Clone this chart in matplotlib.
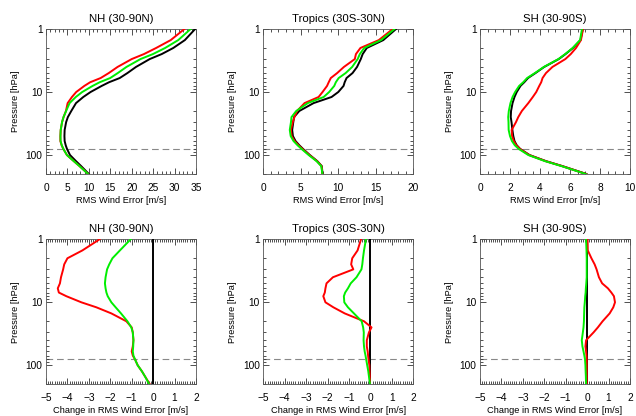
import matplotlib
matplotlib.use("Agg")
import matplotlib.pyplot as plt
from matplotlib.ticker import MultipleLocator, FixedLocator, LogLocator, NullFormatter
import numpy as np

plt.rcParams["font.family"] = ["Liberation Sans", "DejaVu Sans"]

# pressure levels [hPa]
levels = [1, 1.5, 2, 2.5, 3, 4, 5, 6, 7, 8, 10, 12, 15, 20, 25, 30, 40, 50, 60, 70, 80, 100, 125, 150, 200]

# control RMS wind error [m/s]
nh_ctrl = [34.8, 32.4, 29.7, 27.0, 24.2, 21.0, 19.0, 17.2, 14.7, 13.0, 10.4, 8.7, 7.0, 5.9, 5.1, 4.7,
           4.35, 4.3, 4.35, 4.6, 4.9, 5.6, 7.0, 8.2, 10.0]
tr_ctrl = [17.7, 16.0, 13.8, 13.25, 13.0, 12.5, 11.9, 11.1, 10.85, 10.7, 10.0, 9.1, 6.7, 4.8, 4.1, 4.0,
           3.85, 3.95, 4.3, 4.8, 5.3, 6.2, 7.2, 7.8, 7.9]
sh_ctrl = [6.85, 6.7, 6.2, 5.7, 5.25, 4.28, 3.7, 3.2, 2.95, 2.7, 2.45, 2.3, 2.17, 2.07, 2.05, 2.1,
           2.16, 2.22, 2.3, 2.45, 2.68, 3.3, 4.4, 5.5, 7.1]

# change in RMS wind error vs control, red experiment
nh_red = [-2.5, -3.3, -4.0, -4.15, -4.2, -4.3, -4.35, -4.45, -4.4, -4.05, -3.35, -2.65, -1.95, -1.25,
          -1.0, -0.95, -0.92, -0.95, -1.0, -0.95, -0.85, -0.72, -0.52, -0.38, -0.15]
tr_red = [-0.44, -0.6, -0.85, -0.9, -0.8, -1.75, -2.05, -2.1, -2.13, -2.2, -2.1, -1.73, -1.2, -0.3,
          0.05, -0.07, -0.17, -0.17, -0.13, -0.11, -0.09, -0.05, -0.04, -0.03, -0.02]
sh_red = [0.02, 0.03, 0.2, 0.35, 0.44, 0.55, 0.7, 0.97, 1.13, 1.25, 1.3, 1.22, 1.05, 0.72, 0.5, 0.3,
          -0.05, -0.08, -0.05, -0.03, -0.02, -0.02, -0.02, -0.02, -0.02]

# change in RMS wind error vs control, green experiment
nh_green = [-1.05, -1.55, -1.9, -2.05, -2.15, -2.22, -2.25, -2.22, -2.18, -2.12, -1.95, -1.75, -1.5,
            -1.2, -1.02, -0.95, -0.92, -0.93, -0.95, -0.92, -0.85, -0.72, -0.52, -0.38, -0.18]
tr_green = [-0.21, -0.3, -0.35, -0.38, -0.42, -0.65, -0.92, -1.05, -1.18, -1.24, -1.22, -1.05, -0.77,
            -0.41, -0.34, -0.31, -0.32, -0.3, -0.27, -0.23, -0.2, -0.15, -0.1, -0.07, -0.02]
sh_green = [-0.05, -0.03, -0.02, -0.02, -0.02, -0.02, -0.04, -0.06, -0.07, -0.09, -0.11, -0.13, -0.14,
            -0.15, -0.17, -0.2, -0.25, -0.22, -0.17, -0.13, -0.1, -0.08, -0.07, -0.06, -0.05]

titles = ["NH (30-90N)", "Tropics (30S-30N)", "SH (30-90S)"]
top_xmax = [35, 20, 10]
top_major = [5, 5, 2]
top_minor = [1, 1, 0.5]
dash_level = 80

regions = [(nh_ctrl, nh_red, nh_green), (tr_ctrl, tr_red, tr_green), (sh_ctrl, sh_red, sh_green)]

fig = plt.figure(figsize=(6.36, 4.16), dpi=100)
lefts = [46 / 636, 263.3 / 636, 480 / 636]
w = 150 / 636
h = 145 / 416
bottoms = [1 - 174 / 416, 1 - 384.3 / 416]

RED = "#ff0000"
GREEN = "#00ee00"
LW = 1.4


def style_axis(ax, xmin, xmax, major, minor, xlabel):
    ax.set_yscale("log")
    ax.set_ylim(200, 1)
    ax.set_xlim(xmin, xmax)
    ax.yaxis.set_major_locator(FixedLocator([1, 10, 100]))
    ax.set_yticklabels(["1", "10", "100"])
    ax.yaxis.set_minor_locator(LogLocator(base=10, subs=np.arange(2, 10)))
    ax.yaxis.set_minor_formatter(NullFormatter())
    ax.xaxis.set_major_locator(MultipleLocator(major))
    ax.xaxis.set_minor_locator(MultipleLocator(minor))
    ax.tick_params(which="both", direction="in", top=True, right=True, width=0.6, colors="#333333",
                   labelcolor="black")
    ax.tick_params(which="major", length=4.5, labelsize=7.3)
    ax.tick_params(which="minor", length=2.2)
    ax.tick_params(axis="x", which="major", pad=6.5)
    ax.tick_params(axis="y", which="major", pad=2.5)
    for s in ax.spines.values():
        s.set_linewidth(0.6)
        s.set_color("#555555")
    ax.axhline(dash_level, color="#888888", lw=0.8, dashes=(6, 3.5), zorder=1)
    ax.set_xlabel(xlabel, fontsize=6.7, labelpad=2.2)
    ax.set_ylabel("Pressure [hPa]", fontsize=6.7, labelpad=4)


for i, (ctrl, dred, dgreen) in enumerate(regions):
    ctrl = np.array(ctrl)
    # top row: absolute RMS error
    ax = fig.add_axes([lefts[i], bottoms[0], w, h])
    style_axis(ax, 0, top_xmax[i], top_major[i], top_minor[i], "RMS Wind Error [m/s]")
    ax.plot(ctrl, levels, color="black", lw=LW, zorder=3)
    ax.plot(ctrl + np.array(dred), levels, color=RED, lw=LW, zorder=4)
    ax.plot(ctrl + np.array(dgreen), levels, color=GREEN, lw=LW, zorder=5)
    ax.set_title(titles[i], fontsize=8.2, pad=5)

    # bottom row: change relative to control
    ax = fig.add_axes([lefts[i], bottoms[1], w, h])
    style_axis(ax, -5, 2, 1, 0.1, "Change in RMS Wind Error [m/s]")
    ax.axvline(0, color="black", lw=LW, zorder=3)
    ax.plot(dred, levels, color=RED, lw=LW, zorder=4)
    ax.plot(dgreen, levels, color=GREEN, lw=LW, zorder=5)
    ax.set_title(titles[i], fontsize=8.2, pad=5)

fig.savefig("out.png", dpi=100)
